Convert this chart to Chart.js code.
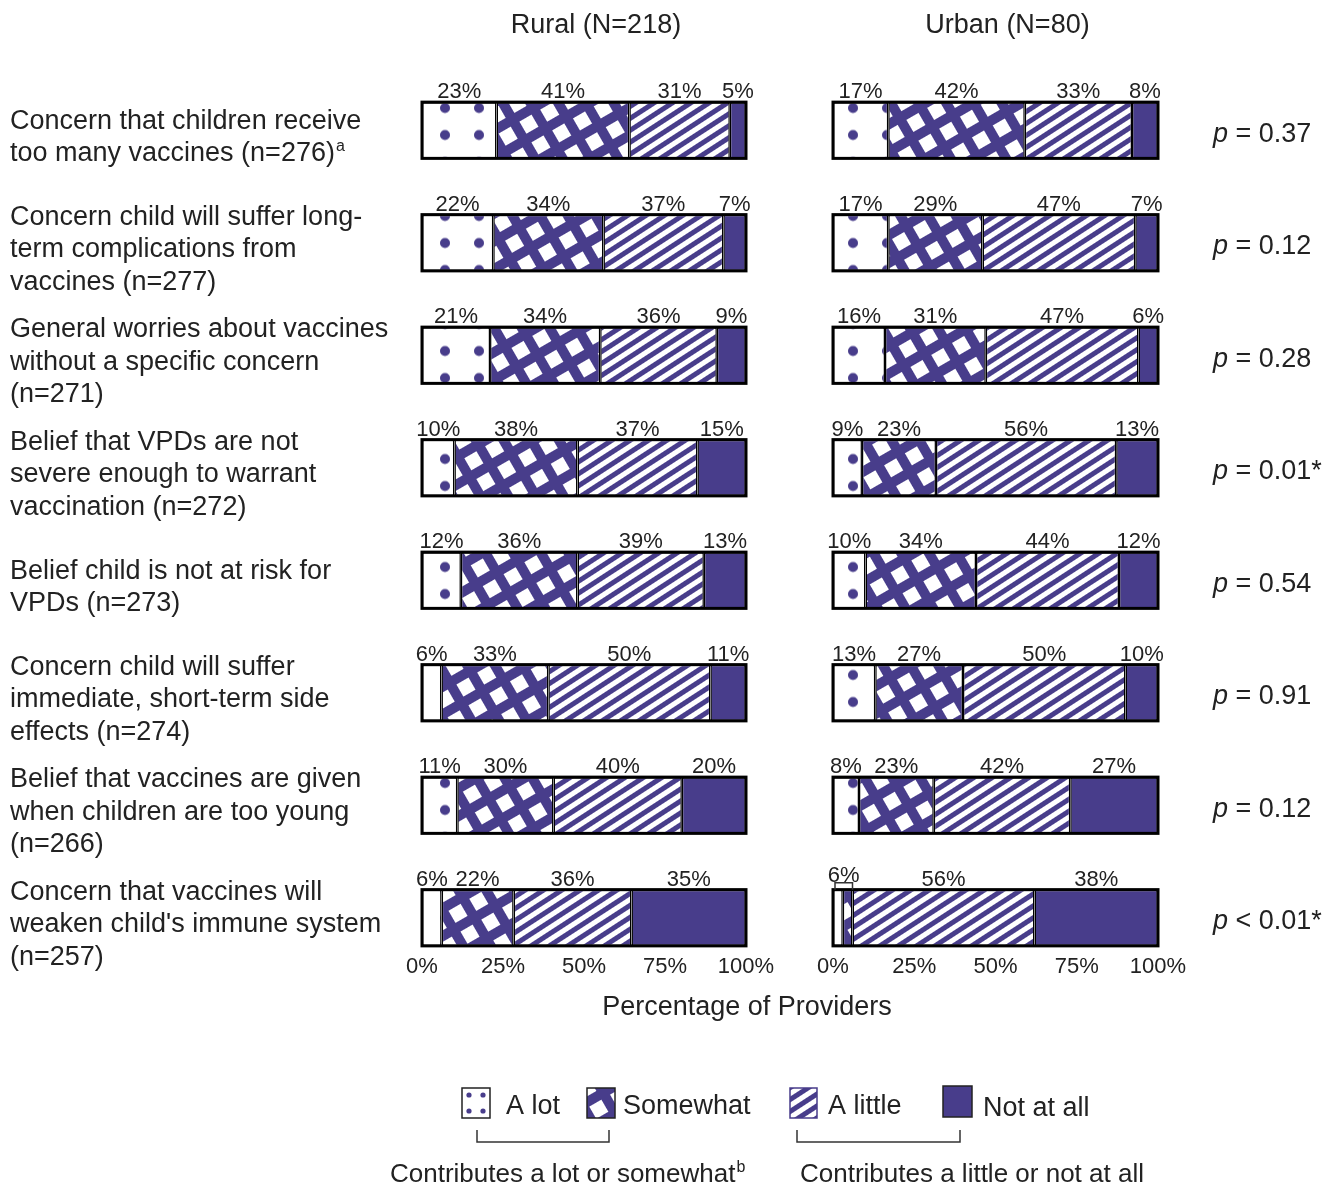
<!DOCTYPE html>
<html lang="en">
<head>
  <meta charset="UTF-8">
  <title>Vaccine concerns by practice location</title>
  <script src="https://cdn.jsdelivr.net/npm/chart.js"></script>
  <style>
    body { margin: 0; background: #fff; }
    #wrap { position: relative; width: 1338px; height: 1186px; }
    canvas { position: absolute; left: 0; top: 0; }
  </style>
</head>
<body>
  <div id="wrap">
    <canvas id="ruralChart" width="1338" height="1186"></canvas>
    <canvas id="urbanChart" width="1338" height="1186"></canvas>
  </div>

  <script>
    // Row labels ("^" marks a superscript footnote)
    const categories = [
      ['Concern that children receive', 'too many vaccines (n=276)^a'],
      ['Concern child will suffer long-', 'term complications from', 'vaccines (n=277)'],
      ['General worries about vaccines', 'without a specific concern', '(n=271)'],
      ['Belief that VPDs are not', 'severe enough to warrant', 'vaccination (n=272)'],
      ['Belief child is not at risk for', 'VPDs (n=273)'],
      ['Concern child will suffer', 'immediate, short-term side', 'effects (n=274)'],
      ['Belief that vaccines are given', 'when children are too young', '(n=266)'],
      ['Concern that vaccines will', "weaken child's immune system", '(n=257)']
    ];
    const levels = ['A lot', 'Somewhat', 'A little', 'Not at all'];

    const ruralALot      = [23, 22, 21, 10, 12, 6, 11, 6];
    const ruralSomewhat  = [41, 34, 34, 38, 36, 33, 30, 22];
    const ruralALittle   = [31, 37, 36, 37, 39, 50, 40, 36];
    const ruralNotAtAll  = [5, 7, 9, 15, 13, 11, 20, 35];

    const urbanALot      = [17, 17, 16, 9, 10, 13, 8, 3];
    const urbanSomewhat  = [42, 29, 31, 23, 34, 27, 23, 3];
    const urbanALittle   = [33, 47, 47, 56, 44, 50, 42, 56];
    const urbanNotAtAll  = [8, 7, 6, 13, 12, 10, 27, 38];

    const pValues = ['= 0.37', '= 0.12', '= 0.28', '= 0.01*', '= 0.54', '= 0.91', '= 0.12', '< 0.01*'];
    const panelTitles = ['Rural (N=218)', 'Urban (N=80)'];
    const xTicks = [0, 25, 50, 75, 100];
    const axisTitle = 'Percentage of Providers';
    const groupNotes = ['Contributes a lot or somewhat^b', 'Contributes a little or not at all'];

    const PURPLE = '#483d8b';
    const TEXT = '#222';
    const FONT = '"Liberation Sans", Arial, Helvetica, sans-serif';

    // Pattern fills for the four answer levels
    function makeFills(ctx) {
      const tile = (w, h, draw) => {
        const c = document.createElement('canvas');
        c.width = w; c.height = h;
        draw(c.getContext('2d'), w, h);
        return c;
      };
      const dots = ctx.createPattern(tile(34, 27, (g, w, h) => {
        g.fillStyle = '#fff'; g.fillRect(0, 0, w, h);
        g.fillStyle = PURPLE; g.beginPath(); g.arc(w / 2, h / 2, 5, 0, Math.PI * 2); g.fill();
      }), 'repeat');
      dots.setTransform(new DOMMatrix().translate(445 - 17, 108 - 13.5));

      const cross = ctx.createPattern(tile(24, 24, (g, w, h) => {
        g.fillStyle = PURPLE; g.fillRect(0, 0, w, h);
        g.fillStyle = '#fff'; g.fillRect(5, 5, 14, 14);
      }), 'repeat');
      cross.setTransform(new DOMMatrix().rotate(-30));

      const stripes = ctx.createPattern(tile(10, 10, (g, w, h) => {
        g.fillStyle = '#fff'; g.fillRect(0, 0, w, h);
        g.fillStyle = PURPLE; g.fillRect(0, 0, w, 5);
      }), 'repeat');
      stripes.setTransform(new DOMMatrix().rotate(-33));

      return [dots, cross, stripes, PURPLE];
    }

    // text with an optional "^x" superscript, left aligned
    function drawRich(g, text, x, y, size) {
      const [main, sup] = text.split('^');
      g.font = size + 'px ' + FONT;
      g.fillText(main, x, y);
      if (sup) {
        const w = g.measureText(main).width;
        g.font = Math.round(size * 0.6) + 'px ' + FONT;
        g.fillText(sup, x + w + 1, y - size * 0.38);
      }
    }

    function panelPlugin(panel, fills) {
      return {
        id: 'panelText',
        afterDatasetsDraw(chart) {
          const g = chart.ctx;
          const metas = chart.data.datasets.map((d, k) => chart.getDatasetMeta(k));
          g.save();
          g.fillStyle = TEXT;
          g.textAlign = 'center';
          g.textBaseline = 'alphabetic';
          categories.forEach((_, i) => {
            const bars = metas.map(m => m.data[i]);
            const top = bars[0].y - bars[0].height / 2;
            // outline round the whole stacked bar
            g.strokeStyle = '#000';
            g.lineWidth = 3;
            g.strokeRect(bars[0].base, top, bars[3].x - bars[0].base, bars[0].height);

            g.font = '22px ' + FONT;
            const raw = chart.data.datasets.map(d => d.raw[i]);
            const merge = raw[0] < 5 && raw[1] < 5;
            bars.forEach((b, k) => {
              if (merge && k < 2) return;
              g.fillText(raw[k] + '%', (b.base + b.x) / 2, top - 4);
            });
            if (merge) {
              const x0 = bars[0].base + 2, x1 = bars[1].x;
              g.lineWidth = 1.5;
              g.strokeStyle = '#333';
              g.beginPath();
              g.moveTo(x0, top); g.lineTo(x0, top - 7); g.lineTo(x1, top - 7); g.lineTo(x1, top);
              g.stroke();
              g.fillText((raw[0] + raw[1]) + '%', (x0 + x1) / 2, top - 8);
            }
          });
          g.restore();
        },
        afterDraw(chart) {
          const g = chart.ctx;
          const area = chart.chartArea;
          const xScale = chart.scales.x;
          const yScale = chart.scales.y;
          g.save();
          g.fillStyle = TEXT;
          g.textBaseline = 'alphabetic';

          g.textAlign = 'center';
          g.font = '27px ' + FONT;
          g.fillText(panel.title, (area.left + area.right) / 2 + 12, 33);

          // x tick labels, just under the last bar
          g.font = '22px ' + FONT;
          xTicks.forEach(v => g.fillText(v + '%', xScale.getPixelForValue(v), 973));

          g.textAlign = 'left';
          if (panel.side === 'left') {
            categories.forEach((lines, i) => {
              const mid = yScale.getPixelForValue(i) + 5;
              lines.forEach((line, j) => {
                const y = mid + (j - (lines.length - 1) / 2) * 32.5 + 9.7;
                drawRich(g, line, 10, y, 27);
              });
            });

            g.textAlign = 'center';
            g.font = '27px ' + FONT;
            g.fillText(axisTitle, 747, 1015);

            // legend
            const boxes = [
              { x: 462, y: 1088, w: 28, h: 30, tx: 506 },
              { x: 587, y: 1088, w: 28, h: 30, tx: 623 },
              { x: 790, y: 1088, w: 27, h: 30, tx: 828 },
              { x: 943, y: 1086, w: 29, h: 31, tx: 983 }
            ];
            boxes.forEach((b, k) => {
              g.fillStyle = k === 0 ? '#fff' : fills[k];
              g.fillRect(b.x, b.y, b.w, b.h);
              if (k === 0) {
                g.fillStyle = PURPLE;
                [[7, 7], [21, 7], [7, 23], [21, 23]].forEach(([dx, dy]) => {
                  g.beginPath(); g.arc(b.x + dx, b.y + dy, 2.6, 0, Math.PI * 2); g.fill();
                });
              }
              g.strokeStyle = k === 2 ? PURPLE : '#222';
              g.lineWidth = 1.5;
              g.strokeRect(b.x, b.y, b.w, b.h);
              g.fillStyle = TEXT;
              g.textAlign = 'left';
              g.font = '27px ' + FONT;
              g.fillText(levels[k], b.tx, k === 3 ? 1116 : 1114);
            });

            // brackets grouping the levels
            g.strokeStyle = '#333';
            g.lineWidth = 1.5;
            [[477, 609], [797, 960]].forEach(([a, b]) => {
              g.beginPath();
              g.moveTo(a, 1130); g.lineTo(a, 1142); g.lineTo(b, 1142); g.lineTo(b, 1130);
              g.stroke();
            });
            g.fillStyle = TEXT;
            drawRich(g, groupNotes[0], 390, 1182, 26);
            drawRich(g, groupNotes[1], 800, 1182, 26);
          } else {
            pValues.forEach((p, i) => {
              const y = yScale.getPixelForValue(i) + 2 + 9.7;
              g.font = 'italic 27px ' + FONT;
              g.fillText('p', 1213, y);
              const w = g.measureText('p ').width;
              g.font = '27px ' + FONT;
              g.fillText(p, 1213 + w, y);
            });
          }
          g.restore();
        }
      };
    }

    function makeChart(id, rows, panel) {
      const ctx = document.getElementById(id).getContext('2d');
      const fills = makeFills(ctx);
      // bars are drawn as a 100% stack, labels keep the printed values
      const totals = categories.map((_, i) => rows.reduce((s, r) => s + r[i], 0));
      return new Chart(ctx, {
        type: 'bar',
        data: {
          labels: categories.map(c => c.join(' ')),
          datasets: rows.map((r, k) => ({
            label: levels[k],
            raw: r,
            data: r.map((v, i) => v / totals[i] * 100),
            backgroundColor: fills[k],
            borderColor: '#000',
            borderWidth: 1.5,
            borderSkipped: false,
            barPercentage: 0.5,
            categoryPercentage: 1
          }))
        },
        options: {
          indexAxis: 'y',
          responsive: false,
          animation: false,
          devicePixelRatio: 1,
          layout: { padding: panel.padding },
          plugins: {
            legend: { display: false },
            tooltip: { enabled: false },
            title: { display: false }
          },
          scales: {
            x: { stacked: true, min: 0, max: 100, display: false },
            y: { stacked: true, display: false }
          }
        },
        plugins: [panelPlugin(panel, fills)]
      });
    }

    makeChart('ruralChart', [ruralALot, ruralSomewhat, ruralALittle, ruralNotAtAll], {
      side: 'left',
      title: panelTitles[0],
      padding: { left: 422, right: 592, top: 74, bottom: 212 }
    });
    makeChart('urbanChart', [urbanALot, urbanSomewhat, urbanALittle, urbanNotAtAll], {
      side: 'right',
      title: panelTitles[1],
      padding: { left: 833, right: 180, top: 74, bottom: 212 }
    });
  </script>
</body>
</html>
